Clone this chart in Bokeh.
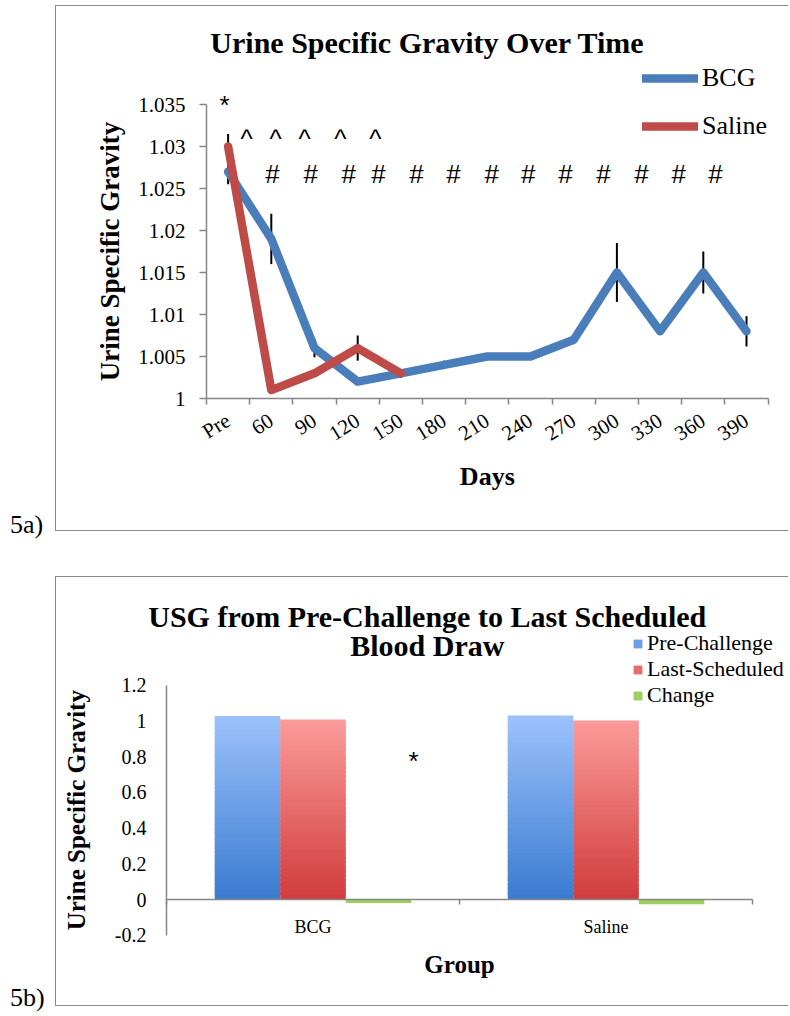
import math
from bokeh.plotting import figure
from bokeh.models import (ColumnDataSource, FixedTicker, CustomJSTickFormatter, Label,
                          Legend, LegendItem, Div, Spacer)
from bokeh.layouts import column, row
from bokeh.core.properties import value
from bokeh.embed import file_html
from bokeh.resources import INLINE

# ---------------- data: 5a ----------------
days = ["Pre", "60", "90", "120", "150", "180", "210", "240", "270", "300", "330", "360", "390"]
bcg_usg = [1.027, 1.019, 1.006, 1.002, 1.003, 1.004, 1.005, 1.005, 1.007, 1.015, 1.008, 1.015, 1.008]
bcg_err = [0.0015, 0.003, 0.0011, 0.0, 0.0005, 0.0005, 0.0, 0.0, 0.0, 0.0035, 0.0, 0.0025, 0.0018]
saline_usg = [1.030, 1.001, 1.003, 1.006, 1.003]
saline_err = [0.0015, 0.0, 0.0, 0.0015, 0.0005]
y_ticks_a = [1.0, 1.005, 1.01, 1.015, 1.02, 1.025, 1.03, 1.035]
y_labels_a = ["1", "1.005", "1.01", "1.015", "1.02", "1.025", "1.03", "1.035"]

# significance marks (x in category units)
star_a_x = [0.42]
caret_x = [0.93, 1.60, 2.27, 3.10, 3.91]
hash_x = [1.53, 2.41, 3.29, 3.98, 4.86, 5.72, 6.60, 7.45, 8.31, 9.19, 10.07, 10.93, 11.78]

# ---------------- data: 5b ----------------
groups = ["BCG", "Saline"]
pre_challenge = [1.027, 1.030]
last_scheduled = [1.008, 1.003]
change = [-0.019, -0.027]
y_ticks_b = [-0.2, 0.0, 0.2, 0.4, 0.6, 0.8, 1.0, 1.2]
y_labels_b = ["-0.2", "0", "0.2", "0.4", "0.6", "0.8", "1", "1.2"]
star_b_x = [0.843]

SERIF = "Liberation Serif"
SANS = "Liberation Sans"
GREY = "#868686"
BLUE = "#4A7EBB"
RED = "#BE4B48"
BOX = {"border-top": "1px solid #8a8a8a", "border-left": "1px solid #8a8a8a",
       "border-bottom": "1px solid #8a8a8a"}

fmt_code = """
let best = -1, bd = 1e9;
for (let i = 0; i < tv.length; i++) { const d = Math.abs(tv[i] - tick); if (d < bd) { bd = d; best = i; } }
return bd < 1e-9 ? labs[best] : "";
"""
cat_code = """
const i = Math.floor(tick);
return (i >= 0 && i < labs.length) ? labs[i] : "";
"""

W = 733          # canvas width (px) of both panels

def bare_figure(h, xr, yr):
    p = figure(width=W, height=h, x_range=xr, y_range=yr, title=None,
               output_backend="svg", toolbar_location=None,
               min_border_left=0, min_border_right=0, min_border_top=0, min_border_bottom=0)
    p.xgrid.visible = False
    p.ygrid.visible = False
    p.outline_line_color = None
    p.styles = BOX
    return p

def style_axis(ax, font_px):
    ax.axis_line_color = GREY
    ax.axis_line_width = 1.5
    ax.major_label_text_font = SERIF
    ax.major_label_text_font_size = font_px
    ax.major_label_text_color = "black"

# ======================= Figure 5a =======================
n = len(days)
H1 = 526
px_x_a = 43.2                  # px per category
px_y_a = 294.0 / 0.035         # px per USG unit
x0_px_a, y0_px_a = 150, 392    # canvas position of (x=0, y=1.000)
xr_a = (-x0_px_a / px_x_a, (W - x0_px_a) / px_x_a)
yr_a = (y_ticks_a[0] - (H1 - y0_px_a) / px_y_a, y_ticks_a[0] + y0_px_a / px_y_a)

p1 = bare_figure(H1, xr_a, yr_a)

ya = p1.yaxis[0]
ya.fixed_location = 0
ya.bounds = (y_ticks_a[0], y_ticks_a[-1])
ya.ticker = FixedTicker(ticks=y_ticks_a)
ya.formatter = CustomJSTickFormatter(args=dict(tv=y_ticks_a, labs=y_labels_a), code=fmt_code)
style_axis(ya, "21px")
ya.major_tick_line_color = GREY
ya.major_tick_line_width = 1.5
ya.major_tick_in = 0
ya.major_tick_out = 7
ya.major_label_standoff = 14

xa = p1.xaxis[0]
xa.fixed_location = y_ticks_a[0]
xa.bounds = (0, n)
xa.ticker = FixedTicker(ticks=[i + 0.5 for i in range(n)], minor_ticks=list(range(n + 1)))
xa.formatter = CustomJSTickFormatter(args=dict(labs=days), code=cat_code)
style_axis(xa, "21px")
xa.major_tick_line_color = None
xa.major_tick_in = 0
xa.major_tick_out = 0
xa.minor_tick_line_color = GREY
xa.minor_tick_line_width = 1.5
xa.minor_tick_in = 0
xa.minor_tick_out = 6
xa.major_label_orientation = 0.56
xa.major_label_standoff = 14

xb = [i + 0.5 for i in range(len(bcg_usg))]
xs = [i + 0.5 for i in range(len(saline_usg))]

def err_source(x, y, e):
    keep = [i for i in range(len(x)) if e[i] > 0]
    return ColumnDataSource(dict(x=[x[i] for i in keep],
                                 lo=[y[i] - e[i] for i in keep],
                                 hi=[y[i] + e[i] for i in keep]))

p1.segment(x0="x", y0="lo", x1="x", y1="hi", source=err_source(xb, bcg_usg, bcg_err),
           line_color="black", line_width=2)
p1.segment(x0="x", y0="lo", x1="x", y1="hi", source=err_source(xs, saline_usg, saline_err),
           line_color="black", line_width=2)
r_bcg = p1.line(xb, bcg_usg, line_color=BLUE, line_width=8.5, line_join="round", line_cap="round")
r_sal = p1.line(xs, saline_usg, line_color=RED, line_width=8.5, line_join="round", line_cap="round")

mark_font = dict(text_font=value(SANS), text_font_size="26px", text_color="black",
                 text_align="center", text_baseline="alphabetic")
p1.text(x=star_a_x, y=[1.0350] * len(star_a_x), text=["*"] * len(star_a_x), **mark_font)
p1.text(x=caret_x, y=[1.03085] * len(caret_x), text=["^"] * len(caret_x), **mark_font)
p1.text(x=hash_x, y=[1.02669] * len(hash_x), text=["#"] * len(hash_x), **mark_font)

# axis titles and chart title
p1.text(x=[n / 2], y=[y_ticks_a[0] - 78 / px_y_a], text=["Days"], text_font=value(SERIF),
        text_font_style="bold", text_font_size="26px", text_color="black",
        text_align="center", text_baseline="middle")
p1.text(x=[-97 / px_x_a], y=[(y_ticks_a[0] + y_ticks_a[-1]) / 2], text=["Urine Specific Gravity"],
        angle=math.pi / 2, text_font=value(SERIF), text_font_style="bold", text_font_size="27px",
        text_color="black", text_align="center", text_baseline="middle")
p1.add_layout(Label(x=5.116, y=1.04238, text="Urine Specific Gravity Over Time",
                    text_font=SERIF, text_font_style="bold", text_font_size="30px",
                    text_align="center", text_baseline="middle", text_color="black"))

leg1 = Legend(items=[LegendItem(label="BCG", renderers=[r_bcg]),
                     LegendItem(label="Saline", renderers=[r_sal])],
              location=(586, 391), glyph_width=56, glyph_height=24, label_height=24,
              spacing=18, padding=0, margin=0, border_line_color=None,
              background_fill_alpha=0, label_standoff=4,
              label_text_font=SERIF, label_text_font_size="26px", label_text_color="black")
p1.add_layout(leg1)

# ======================= Figure 5b =======================
H2 = 430
px_x_b = 293.0                 # px per group
px_y_b = 250.0 / 1.4           # px per unit
x0_px_b, y0_px_b = 110, 322    # canvas position of (x=0, y=0)
xr_b = (-x0_px_b / px_x_b, (W - x0_px_b) / px_x_b)
yr_b = (-(H2 - y0_px_b) / px_y_b, y0_px_b / px_y_b)

p2 = bare_figure(H2, xr_b, yr_b)

yb = p2.yaxis[0]
yb.fixed_location = 0
yb.bounds = (y_ticks_b[0], y_ticks_b[-1])
yb.ticker = FixedTicker(ticks=y_ticks_b)
yb.formatter = CustomJSTickFormatter(args=dict(tv=y_ticks_b, labs=y_labels_b), code=fmt_code)
style_axis(yb, "20px")
yb.major_tick_line_color = None
yb.major_tick_in = 0
yb.major_tick_out = 0
yb.major_label_standoff = 20

xbx = p2.xaxis[0]
xbx.fixed_location = 0
xbx.bounds = (0, len(groups))
xbx.ticker = FixedTicker(ticks=[i + 0.5 for i in range(len(groups))],
                         minor_ticks=list(range(len(groups) + 1)))
xbx.formatter = CustomJSTickFormatter(args=dict(labs=groups), code=cat_code)
style_axis(xbx, "18px")
xbx.major_tick_line_color = None
xbx.major_tick_in = 0
xbx.major_tick_out = 0
xbx.minor_tick_line_color = GREY
xbx.minor_tick_line_width = 1.5
xbx.minor_tick_in = 0
xbx.minor_tick_out = 5
xbx.major_label_standoff = 12

def hex_rgb(h):
    return tuple(int(h[i:i + 2], 16) for i in (1, 3, 5))

def mix(c1, c2, t):
    a, b = hex_rgb(c1), hex_rgb(c2)
    return "#%02x%02x%02x" % tuple(int(round(a[i] + (b[i] - a[i]) * t)) for i in range(3))

bar_w = 0.2235
centers = [i + 0.5 for i in range(len(groups))]

def gradient_source(vals, offset, c_bottom, c_top, steps=40):
    d = dict(left=[], right=[], bottom=[], top=[], color=[])
    for c, v in zip(centers, vals):
        for k in range(steps):
            d["left"].append(c + offset - bar_w / 2)
            d["right"].append(c + offset + bar_w / 2)
            d["bottom"].append(v * k / steps)
            d["top"].append(min(v * (k + 1.6) / steps, v))
            d["color"].append(mix(c_bottom, c_top, (k + 0.5) / steps))
    return ColumnDataSource(d)

r_pre = p2.quad(left="left", right="right", bottom="bottom", top="top", fill_color="color",
                line_color=None, source=gradient_source(pre_challenge, -bar_w, "#3A7BD0", "#9CC2FC"))
r_last = p2.quad(left="left", right="right", bottom="bottom", top="top", fill_color="color",
                 line_color=None, source=gradient_source(last_scheduled, 0.0, "#D13C3C", "#FB9B9A"))
chg_src = ColumnDataSource(dict(left=[c + bar_w - bar_w / 2 for c in centers],
                                right=[c + bar_w + bar_w / 2 for c in centers],
                                bottom=change, top=[0.0] * len(change)))
r_chg = p2.quad(left="left", right="right", bottom="bottom", top="top", source=chg_src,
                fill_color="#9BD05A", line_color=None)

p2.text(x=star_b_x, y=[0.775] * len(star_b_x), text=["*"] * len(star_b_x), **mark_font)

p2.text(x=[len(groups) / 2], y=[-65 / px_y_b], text=["Group"], text_font=value(SERIF),
        text_font_style="bold", text_font_size="25px", text_color="black",
        text_align="center", text_baseline="middle")
p2.text(x=[-90 / px_x_b], y=[(y_ticks_b[0] + y_ticks_b[-1]) / 2], text=["Urine Specific Gravity"],
        angle=math.pi / 2, text_font=value(SERIF), text_font_style="bold", text_font_size="25px",
        text_color="black", text_align="center", text_baseline="middle")

for txt, yy in [("USG from Pre-Challenge to Last Scheduled", 1.5864), ("Blood Draw", 1.424)]:
    p2.add_layout(Label(x=0.89, y=yy, text=txt, text_font=SERIF, text_font_style="bold",
                        text_font_size="30px", text_align="center", text_baseline="middle",
                        text_color="black"))

leg2 = Legend(items=[LegendItem(label="Pre-Challenge", renderers=[r_pre], index=20),
                     LegendItem(label="Last-Scheduled", renderers=[r_last], index=20),
                     LegendItem(label="Change", renderers=[r_chg], index=0)],
              location=(576, 299), glyph_width=11, glyph_height=11, label_height=20,
              spacing=-4, padding=0, margin=0, border_line_color=None,
              background_fill_alpha=0, label_standoff=4,
              label_text_font=SERIF, label_text_font_size="22px", label_text_color="black")
p2.add_layout(leg2)

# ======================= page layout =======================
def tag(txt, h, drop):
    return Div(width=55, height=h, margin=0,
               text=('<div style="position:relative;width:55px;height:%dpx;">'
                     '<span style="position:absolute;left:10px;bottom:%dpx;'
                     "font-family:'Liberation Serif';font-size:26px;line-height:1;color:black;\">%s</span></div>")
                    % (h, drop, txt))

layout = column(Spacer(height=5),
                row(tag("5a)", H1 + 2, -5), p1),
                Spacer(height=43),
                row(tag("5b)", H2 + 2, -3), p2))

with open("out.html", "w") as f:
    f.write(file_html(layout, INLINE))
